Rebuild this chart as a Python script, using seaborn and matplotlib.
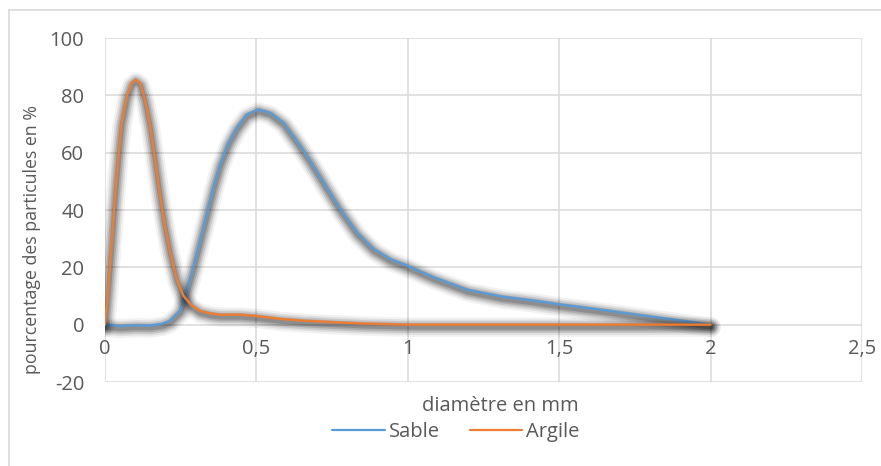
import matplotlib
matplotlib.use("Agg")
import matplotlib.pyplot as plt
import matplotlib.patheffects as pe
from matplotlib.lines import Line2D
from matplotlib.ticker import FuncFormatter
import seaborn as sns
import pandas as pd

# Data
sable_x = [0, 0.05, 0.1, 0.15, 0.19, 0.215, 0.248, 0.270, 0.292, 0.314, 0.336,
           0.358, 0.380, 0.408, 0.435, 0.468, 0.507, 0.546, 0.590, 0.634, 0.678,
           0.722, 0.777, 0.832, 0.887, 0.942, 0.998, 1.086, 1.197, 1.31, 1.41,
           1.507, 1.64, 1.805, 2.0]
sable_y = [0, -0.5, -0.2, -0.3, 0.3, 1.4, 4.9, 11.9, 20, 29.3, 38.5,
           47.8, 55.9, 63.5, 68.7, 73.3, 75.1, 73.9, 70.4, 64, 57.1,
           49.6, 40.3, 32.2, 26.4, 22.9, 20.6, 16.5, 12.2, 9.8, 8.5,
           7.0, 5.2, 2.8, 0]

argile_x = [0, 0.011, 0.022, 0.033, 0.044, 0.055, 0.072, 0.088, 0.101, 0.116,
            0.132, 0.149, 0.165, 0.182, 0.198, 0.215, 0.237, 0.259, 0.284, 0.314,
            0.350, 0.380, 0.446, 0.502, 0.579, 0.656, 0.744, 0.85, 1.0, 1.5, 2.0]
argile_y = [0, 13.6, 28.7, 44.9, 58.8, 70.4, 79.7, 84.3, 85.5, 84.3,
            78.5, 69.3, 57.7, 44.9, 34.5, 25.2, 15.9, 10.1, 6.9, 4.8,
            3.9, 3.5, 3.5, 3.0, 2.0, 1.4, 0.9, 0.4, 0, 0, 0]

series_names = ["Sable", "Argile"]
series_colors = ["#5B9BD5", "#ED7D31"]
x_ticks = [0, 0.5, 1, 1.5, 2, 2.5]
y_ticks = [-20, 0, 20, 40, 60, 80, 100]
x_label = "diamètre en mm"
y_label = "pourcentage des particules en %"

sns.set_style("white")
plt.rcParams["font.family"] = ["Open Sans", "DejaVu Sans"]
plt.rcParams["axes.unicode_minus"] = False
text_color = "#595959"
grid_color = "#d9d9d9"
fs = 14.5

W, H = 881, 466
fig = plt.figure(figsize=(W / 100, H / 100), dpi=100)
ax = fig.add_axes([105 / W, 1 - 382 / H, (862 - 105) / W, (382 - 38) / H])

off = (0.3, -1.8)
shadow = [
    pe.SimpleLineShadow(offset=off, shadow_color="black", alpha=0.05, linewidth=14),
    pe.SimpleLineShadow(offset=off, shadow_color="black", alpha=0.08, linewidth=11),
    pe.SimpleLineShadow(offset=off, shadow_color="black", alpha=0.11, linewidth=8.5),
    pe.SimpleLineShadow(offset=off, shadow_color="black", alpha=0.14, linewidth=6),
    pe.SimpleLineShadow(offset=off, shadow_color="black", alpha=0.17, linewidth=3.5),
    pe.Normal(),
]

df_s = pd.DataFrame({"x": sable_x, "y": sable_y})
df_a = pd.DataFrame({"x": argile_x, "y": argile_y})
sns.lineplot(data=df_s, x="x", y="y", ax=ax, color=series_colors[0], lw=1.7,
             sort=False, label=series_names[0], path_effects=shadow, zorder=3)
sns.lineplot(data=df_a, x="x", y="y", ax=ax, color=series_colors[1], lw=1.7,
             sort=False, label=series_names[1], path_effects=shadow, zorder=3)

ax.set_xlim(0, 2.5)
ax.set_ylim(-20, 100)
ax.set_xticks(x_ticks)
ax.set_yticks(y_ticks)
ax.xaxis.set_major_formatter(FuncFormatter(lambda v, p: f"{v:g}".replace(".", ",")))
ax.grid(True, color=grid_color, lw=1.1, zorder=0)
ax.set_axisbelow(True)
# Excel places the category labels at the zero crossing
ax.spines["bottom"].set_position(("data", 0))
for s in ax.spines.values():
    s.set_visible(False)
ax.tick_params(axis="both", length=0, labelsize=fs, colors=text_color)
ax.tick_params(axis="y", pad=15)
ax.tick_params(axis="x", pad=10)
ax.set_xlabel("")
ax.set_ylabel("")

fig.text(500 / W, 1 - 406 / H, x_label, ha="center", va="center",
         fontsize=fs, color=text_color)
fig.text(32 / W, 1 - 240 / H, y_label, ha="center", va="center", rotation=90,
         fontsize=12.8, color=text_color)

leg = ax.legend(loc="center", bbox_to_anchor=(456 / W, 1 - 432 / H),
                bbox_transform=fig.transFigure, ncol=2, frameon=False,
                fontsize=fs, handlelength=2.6, handletextpad=0.2,
                columnspacing=1.5, labelcolor=text_color, borderpad=0)
for h in leg.get_lines():
    h.set_path_effects([])
    h.set_linewidth(1.6)

# outer chart border (left and top visible)
fig.add_artist(Line2D([9 / W, 9 / W], [0, 1 - 10 / H], color=grid_color, lw=1.2,
                      transform=fig.transFigure))
fig.add_artist(Line2D([9 / W, 1], [1 - 10 / H, 1 - 10 / H], color=grid_color, lw=1.2,
                      transform=fig.transFigure))

fig.savefig("out.png", dpi=100)
